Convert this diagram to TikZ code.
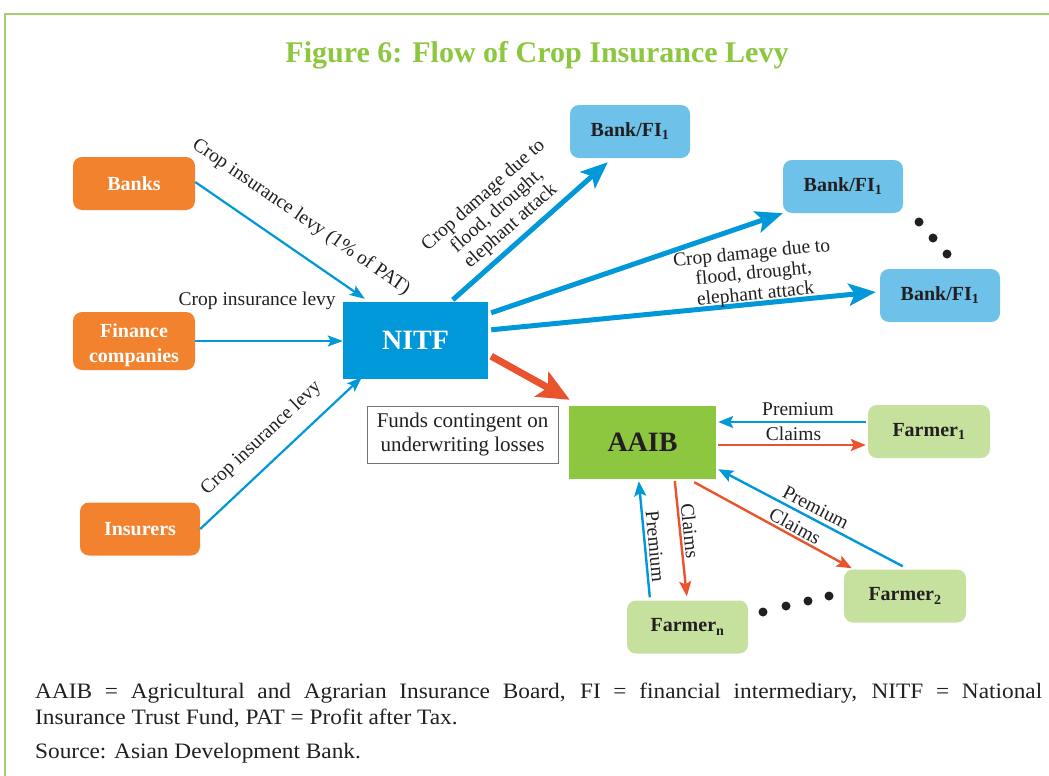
\documentclass[tikz,border=0pt]{standalone}
\usepackage{fontspec}
\setmainfont{Liberation Serif}
\newfontfamily\capfont[FakeStretch=1.06]{Liberation Serif}
\usetikzlibrary{arrows.meta,calc}
\definecolor{orng}{RGB}{242,130,46}
\definecolor{nblue}{RGB}{0,152,216}
\definecolor{lblue}{RGB}{110,194,233}
\definecolor{agreen}{RGB}{141,198,63}
\definecolor{lgreen}{RGB}{198,224,158}
\definecolor{ared}{RGB}{233,83,46}
\definecolor{txt}{RGB}{35,31,32}
\definecolor{framec}{RGB}{165,207,110}
\begin{document}
\begin{tikzpicture}[x=1pt,y=-1pt,
  src/.style={fill=orng, rounded corners=9pt, text=white, font=\bfseries\fontsize{20}{25}\selectfont, minimum width=122pt, minimum height=53pt, inner sep=0pt, align=center},
  srctext/.style={text=white, font=\bfseries\fontsize{20}{25}\selectfont, inner sep=0pt, align=center},
  bankfi/.style={fill=lblue, rounded corners=9pt, text=txt, font=\bfseries\fontsize{20}{24}\selectfont, minimum width=120pt, minimum height=53pt, inner sep=0pt},
  farmer/.style={fill=lgreen, rounded corners=9pt, text=txt, font=\bfseries\fontsize{20}{24}\selectfont, minimum width=122pt, minimum height=53pt, inner sep=0pt},
  bigbox/.style={font=\bfseries\fontsize{28}{32}\selectfont, inner sep=0pt},
  lbl/.style={font=\fontsize{19.5}{20.5}\selectfont, text=txt, inner sep=0pt},
  captxt/.style={font=\capfont\fontsize{22}{26}\selectfont, text=txt, inner sep=0pt},
  bthin/.style={draw=nblue, line width=2.2pt, -{Stealth[length=15pt,width=11pt,inset=3pt]}},
  bthick/.style={draw=nblue, line width=5pt, -{Stealth[length=27pt,width=22pt,inset=6pt]}},
  redbig/.style={draw=ared, line width=7pt, -{Stealth[length=32pt,width=28pt,inset=7pt]}},
  prem/.style={draw=nblue, line width=2.4pt, -{Stealth[length=15pt,width=12pt,inset=3pt]}},
  clm/.style={draw=ared, line width=2.4pt, -{Stealth[length=15pt,width=12pt,inset=3pt]}},
  blackdot/.style={fill=txt}
]
\useasboundingbox (0,0) rectangle (1049,776);
% frame
\draw[framec, line width=1.5pt] (5,776) -- (5,14) -- (1049,14);
% title
\node[font=\bfseries\fontsize{30}{34}\selectfont, text=agreen, anchor=base, inner sep=0pt] (title) at (537,63) {Figure 6: Flow of Crop Insurance Levy};

% nodes
\node[src] (banks) at (134,183.5) {Banks};
\node[src, minimum height=58pt] (fin) at (134,341) {};
\node[srctext] (fintext) at (134,345) {Finance\\companies};
\node[src, minimum width=120pt] (ins) at (140,529) {Insurers};
\node[bigbox, fill=nblue, text=white, minimum width=145pt, minimum height=77pt] (nitf) at (415.5,340.5) {NITF};
\node[bankfi] (bfa) at (630,131.5) {Bank/FI\textsubscript{1}};
\node[bankfi] (bfb) at (843,186.5) {Bank/FI\textsubscript{1}};
\node[bankfi] (bfc) at (940,295.5) {Bank/FI\textsubscript{1}};
\node[bigbox, fill=agreen, text=txt, minimum width=147pt, minimum height=73pt] (aaib) at (642.5,442.5) {AAIB};
\node[draw=black!55, line width=1pt, fill=white, text=txt, font=\fontsize{21}{24}\selectfont, align=center, minimum width=191pt, minimum height=57pt, inner sep=0pt] (funds) at (462.5,434.5) {Funds contingent on\\underwriting losses};
\node[farmer] (f1) at (929,431.5) {Farmer\textsubscript{1}};
\node[farmer] (f2) at (905,596) {Farmer\textsubscript{2}};
\node[farmer, minimum width=121pt] (fn) at (687.5,627) {Farmer\textsubscript{n}};

% levy arrows
\draw[bthin] ($(banks.east)+(0,-1.5)$) -- node[lbl, sloped, pos=0.52, above=21pt] {Crop insurance levy (1\% of PAT)} ($(nitf.north west)+(22,-3)$);
\draw[bthin] (fin.east) -- node[lbl, anchor=base, pos=0.42, yshift=36pt] {Crop insurance levy} (fin.east -| nitf.west);
\draw[bthin] (ins.east) -- node[lbl, sloped, pos=0.48, above=14pt] {Crop insurance levy} ($(nitf.south west)+(19,-2)$);

% NITF to banks
\draw[bthick] ($(nitf.north west)+(110,-2)$) -- node[lbl, sloped, pos=0.445, above=5pt, align=center] {Crop damage due to\\flood, drought,\\elephant attack} ($(bfa.south west)+(38,4)$);
\draw[bthick] ($(nitf.north east)+(3,11)$) -- (bfb.south west);
\draw[bthick] ($(nitf.north east)+(3,28)$) -- node[lbl, sloped, pos=0.69, above=-2.5pt, align=center] {Crop damage due to\\flood, drought,\\elephant attack} ($(bfc.west)+(-4,-3.5)$);
\draw[redbig] ($(nitf.south east)+(3,-23)$) -- ($(aaib.north west)+(1,-6)$);

% farmer 1
\draw[prem] ($(f1.west)+(-2,-9.5)$) -- node[lbl, pos=0.46, above=5pt] {Premium} ($(aaib.east)+(2,-20.5)$);
\draw[clm] ($(aaib.east)+(2,2.5)$) -- node[lbl, pos=0.51, above=3pt] {Claims} ($(f1.west)+(-2,13.5)$);
% farmer 2
\draw[prem] ($(f2.north west)+(59,-3)$) -- node[lbl, sloped, pos=0.5, above=4pt] {Premium} ($(aaib.south east)+(2,-10)$);
\draw[clm] ($(aaib.south east)+(-22,3)$) -- node[lbl, sloped, pos=0.61, above=2pt] {Claims} ($(f2.north west)+(8,-1)$);
% farmer n
\draw[prem] ($(fn.north west)+(23,-3)$) -- node[lbl, sloped, pos=0.43, above=2.5pt] {Premium} ($(aaib.south west)+(70,2)$);
\draw[clm] ($(aaib.south west)+(106,2)$) -- node[lbl, sloped, pos=0.44, above=2pt] {Claims} ($(fn.north west)+(60,-4)$);

% dots
\fill[blackdot] (919,222) circle (4.5pt);
\fill[blackdot] (933,238) circle (4.5pt);
\fill[blackdot] (947,254) circle (4.5pt);
\fill[blackdot] (763,612) circle (4.5pt);
\fill[blackdot] (786,606) circle (4.5pt);
\fill[blackdot] (808,601) circle (4.5pt);
\fill[blackdot] (829,596) circle (4.5pt);

% caption
\node[captxt, anchor=base west] (c1) at (35,698) {\makebox[1007pt][s]{AAIB = Agricultural and Agrarian Insurance Board, FI = financial intermediary, NITF = National}};
\node[captxt, anchor=base west] (c2) at (35,724) {Insurance Trust Fund, PAT = Profit after Tax.};
\node[captxt, anchor=base west] (c3) at (35,758) {Source: Asian Development Bank.};
\end{tikzpicture}
\end{document}
